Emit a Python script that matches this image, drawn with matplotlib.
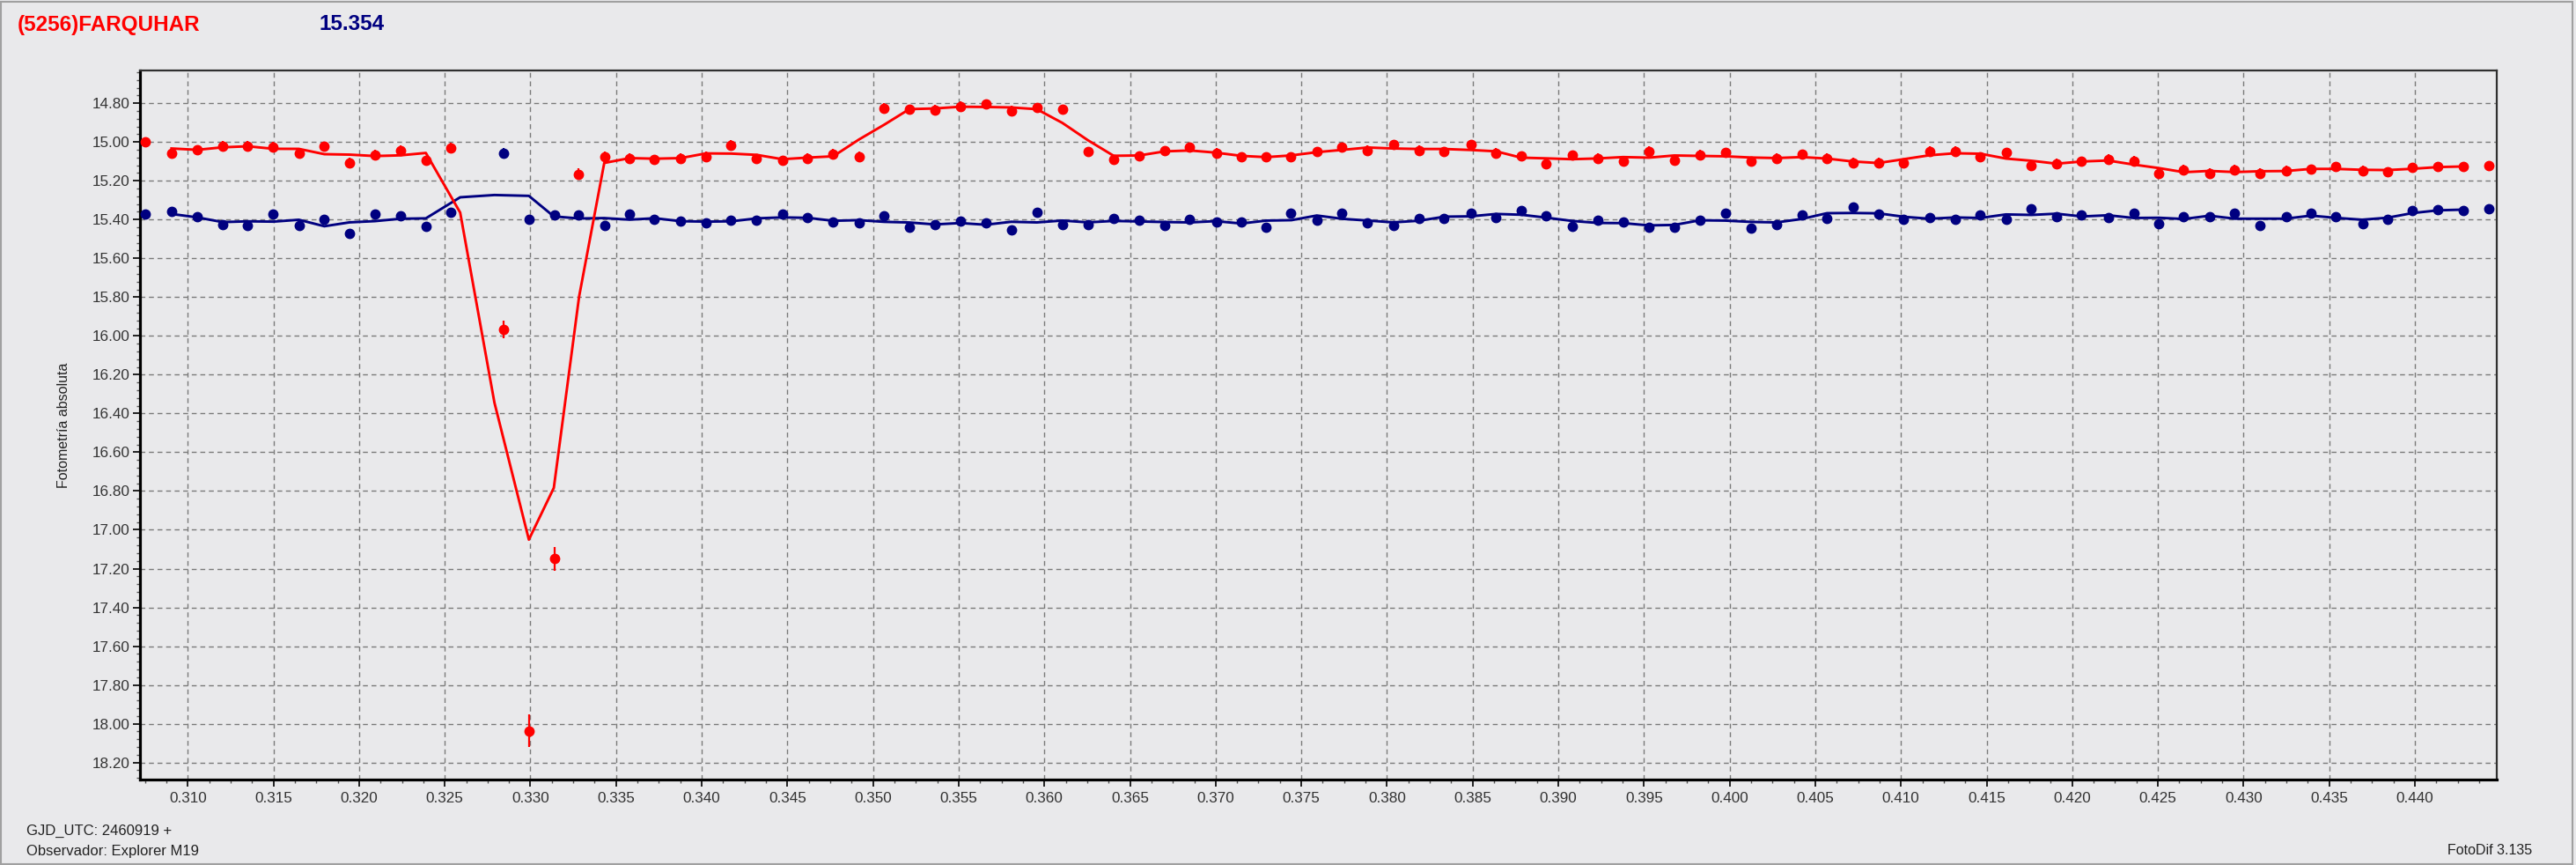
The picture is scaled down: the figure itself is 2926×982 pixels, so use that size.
"""FotoDif-style light curve of (5256) Farquhar: asteroid (red) vs comparison (navy)."""
import matplotlib

matplotlib.use("Agg")
import matplotlib.pyplot as plt  # noqa: E402
import numpy as np  # noqa: E402
from matplotlib.patches import Rectangle  # noqa: E402
from matplotlib.ticker import FormatStrFormatter, MultipleLocator  # noqa: E402

plt.rcParams["font.family"] = ["Liberation Sans", "DejaVu Sans"]

# GJD_UTC - 2460919
GJD = [
    0.30754, 0.30904, 0.31057, 0.31203, 0.31350, 0.31498, 0.31650, 0.31797, 0.31945, 0.32091,
    0.32242, 0.32390, 0.32537,
    0.32843, 0.32990, 0.33140,
    0.33280, 0.33433, 0.33580, 0.33724, 0.33878, 0.34027, 0.34171, 0.34320, 0.34474, 0.34618,
    0.34765, 0.34920, 0.35065, 0.35211, 0.35360, 0.35509, 0.35658, 0.35807, 0.35956, 0.36105,
    0.36254,
    0.36403, 0.36556, 0.36702, 0.36847, 0.37004, 0.37149, 0.37294, 0.37440, 0.37593, 0.37738,
    0.37884, 0.38040, 0.38186, 0.38331,
    0.38491, 0.38637, 0.38783, 0.38929, 0.39084, 0.39229, 0.39379, 0.39528, 0.39679, 0.39825,
    0.39974, 0.40125, 0.40275, 0.40421,
    0.40565, 0.40720, 0.40869, 0.41015, 0.41170, 0.41315, 0.41461, 0.41616, 0.41762, 0.41908,
    0.42054, 0.42212, 0.42359, 0.42505,
    0.42650, 0.42803, 0.42949, 0.43094, 0.43248, 0.43393, 0.43538, 0.43696, 0.43841, 0.43986,
    0.44132, 0.44285, 0.44434,
]

MAG_AST = [
    15.000, 15.060, 15.040, 15.021, 15.021, 15.024, 15.060, 15.022, 15.106, 15.067,
    15.044, 15.095, 15.030,
    15.966, 18.036, 17.150,
    15.165, 15.075, 15.084, 15.090, 15.084, 15.075, 15.017, 15.087, 15.095, 15.084,
    15.062, 15.075, 14.826, 14.831, 14.834, 14.816, 14.804, 14.838, 14.823, 14.831,
    15.050,
    15.091, 15.072, 15.045, 15.028, 15.058, 15.078, 15.078, 15.078, 15.051, 15.028,
    15.043, 15.014, 15.043, 15.051,
    15.014, 15.058, 15.072, 15.112, 15.069, 15.085, 15.100, 15.048, 15.094, 15.066,
    15.055, 15.100, 15.085, 15.063,
    15.085, 15.108, 15.108, 15.109, 15.048, 15.048, 15.078, 15.055, 15.123, 15.112,
    15.100, 15.089, 15.097, 15.163,
    15.143, 15.161, 15.143, 15.161, 15.148, 15.140, 15.128, 15.148, 15.154, 15.132,
    15.128, 15.128, 15.122,
]

ERR_AST = [
    0.025, 0.025, 0.025, 0.025, 0.025, 0.025, 0.025, 0.025, 0.025, 0.025,
    0.025, 0.025, 0.025,
    0.045, 0.085, 0.060,
    0.030, 0.025, 0.025, 0.025, 0.025, 0.025, 0.025, 0.025, 0.025, 0.025,
    0.025, 0.025, 0.025, 0.025, 0.025, 0.025, 0.025, 0.025, 0.025, 0.025,
    0.025,
    0.025, 0.025, 0.025, 0.025, 0.025, 0.025, 0.025, 0.025, 0.025, 0.025,
    0.025, 0.025, 0.025, 0.025,
    0.025, 0.025, 0.025, 0.025, 0.025, 0.025, 0.025, 0.025, 0.025, 0.025,
    0.025, 0.025, 0.025, 0.025,
    0.025, 0.025, 0.025, 0.025, 0.025, 0.025, 0.025, 0.025, 0.025, 0.025,
    0.025, 0.025, 0.025, 0.025,
    0.025, 0.025, 0.025, 0.025, 0.025, 0.025, 0.025, 0.025, 0.025, 0.025,
    0.025, 0.025, 0.025,
]

MAG_CMP = [
    15.372, 15.357, 15.384, 15.425, 15.430, 15.372, 15.430, 15.401, 15.472, 15.370,
    15.382, 15.435, 15.364,
    15.056, 15.400, 15.377,
    15.374, 15.432, 15.371, 15.398, 15.410, 15.417, 15.405, 15.405, 15.371, 15.390,
    15.412, 15.417, 15.380, 15.438, 15.427, 15.410, 15.417, 15.453, 15.364, 15.427,
    15.424,
    15.392, 15.405, 15.432, 15.401, 15.411, 15.412, 15.438, 15.366, 15.405, 15.366,
    15.417, 15.432, 15.394, 15.392,
    15.369, 15.389, 15.355, 15.381, 15.435, 15.405, 15.412, 15.438, 15.440, 15.405,
    15.366, 15.445, 15.425, 15.374,
    15.392, 15.335, 15.371, 15.397, 15.389, 15.401, 15.377, 15.397, 15.346, 15.385,
    15.378, 15.389, 15.366, 15.420,
    15.386, 15.385, 15.369, 15.432, 15.385, 15.369, 15.385, 15.420, 15.397, 15.354,
    15.348, 15.355, 15.343,
]

ERR_CMP = [
    0.020, 0.020, 0.020, 0.020, 0.020, 0.020, 0.020, 0.020, 0.020, 0.020,
    0.020, 0.020, 0.020,
    0.025, 0.020, 0.020,
    0.020, 0.020, 0.020, 0.020, 0.020, 0.020, 0.020, 0.020, 0.020, 0.020,
    0.020, 0.020, 0.020, 0.020, 0.020, 0.020, 0.020, 0.020, 0.020, 0.020,
    0.020,
    0.020, 0.020, 0.020, 0.020, 0.020, 0.020, 0.020, 0.020, 0.020, 0.020,
    0.020, 0.020, 0.020, 0.020,
    0.020, 0.020, 0.020, 0.020, 0.020, 0.020, 0.020, 0.020, 0.020, 0.020,
    0.020, 0.020, 0.020, 0.020,
    0.020, 0.020, 0.020, 0.020, 0.020, 0.020, 0.020, 0.020, 0.020, 0.020,
    0.020, 0.020, 0.020, 0.020,
    0.020, 0.020, 0.020, 0.020, 0.020, 0.020, 0.020, 0.020, 0.020, 0.020,
    0.020, 0.020, 0.020,
]

TITLE = "(5256)FARQUHAR"
CMP_MAG_TEXT = "15.354"
RED = "#ff0000"
NAVY = "#000080"
BG = "#e9e9eb"


def _smooth(v, n=3):
    """Centered running mean (valid part only), as drawn by the software."""
    return np.convolve(np.asarray(v, float), np.ones(n) / n, mode="valid")


def main() -> None:
    W, H = 2926, 982
    fig = plt.figure(figsize=(W / 100, H / 100), dpi=100, facecolor=BG)
    ax = fig.add_axes([159 / W, 1 - 885 / H, (2836 - 159) / W, (885 - 80) / H])
    ax.set_facecolor(BG)

    x = np.asarray(GJD)
    for mag, err, col, z in ((MAG_CMP, ERR_CMP, NAVY, 3), (MAG_AST, ERR_AST, RED, 4)):
        ax.errorbar(x, mag, yerr=err, fmt="o", ms=7.5, color=col, ecolor=col,
                    elinewidth=1.6, capsize=0, zorder=z)
        ax.plot(_smooth(x), _smooth(mag), color=col, lw=2.1, zorder=z)

    ax.set_xlim(0.30721, 0.44478)
    ax.set_ylim(18.288, 14.631)
    ax.xaxis.set_major_locator(MultipleLocator(0.005))
    ax.xaxis.set_minor_locator(MultipleLocator(0.00125))
    ax.yaxis.set_major_locator(MultipleLocator(0.2))
    ax.yaxis.set_minor_locator(MultipleLocator(0.04))
    ax.xaxis.set_major_formatter(FormatStrFormatter("%.3f"))
    ax.yaxis.set_major_formatter(FormatStrFormatter("%.2f"))
    ax.tick_params(which="major", direction="out", length=6, width=1.2,
                   labelsize=12.3, labelcolor="#333333")
    ax.tick_params(axis="x", which="major", pad=4)
    ax.tick_params(axis="y", which="major", pad=2)
    ax.tick_params(which="minor", direction="out", length=3, width=1.0, color="#555555")
    ax.grid(True, which="major", color="#7a7a7a", lw=1.0, ls=(0, (4, 3)))
    ax.set_axisbelow(True)

    for side in ("left", "bottom"):
        ax.spines[side].set_linewidth(2.3)
        ax.spines[side].set_color("black")
    for side in ("top", "right"):
        ax.spines[side].set_linewidth(1.6)
        ax.spines[side].set_color("#303030")

    ax.set_ylabel("Fotometría absoluta", fontsize=11.5, color="#222222")
    ax.yaxis.set_label_coords(-(159 - 80) / (2836 - 159), 0.5)

    fig.text(20 / W, 1 - 28 / H, TITLE, color=RED, fontsize=17.5, fontweight="bold",
             ha="left", va="center")
    fig.text(362 / W, 1 - 28 / H, CMP_MAG_TEXT, color=NAVY, fontsize=17.5,
             fontweight="bold", ha="left", va="center")
    fig.text(30 / W, 1 - 943 / H, "GJD_UTC: 2460919 +", fontsize=12,
             color="#222222", ha="left", va="center")
    fig.text(30 / W, 1 - 966 / H, "Observador: Explorer M19", fontsize=12,
             color="#222222", ha="left", va="center")
    fig.text(2876 / W, 1 - 966 / H, "FotoDif 3.135", fontsize=11.5,
             color="#222222", ha="right", va="center")

    fig.patches.append(Rectangle((0.0005, 0.001), 0.998, 0.997, transform=fig.transFigure,
                                 fill=False, edgecolor="#a0a0a0", lw=1.5))

    fig.savefig("out.png", dpi=100, facecolor=BG)
    plt.close(fig)


if __name__ == "__main__":
    main()
